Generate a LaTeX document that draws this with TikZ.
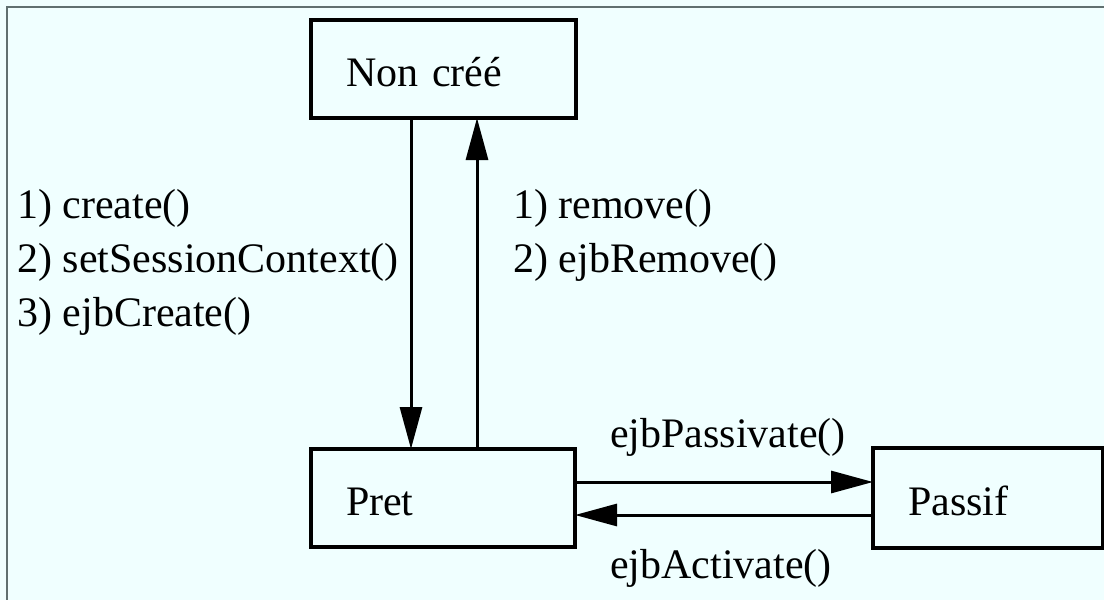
\documentclass[tikz,border=0pt]{standalone}
\usepackage{fontspec}
\setmainfont{Liberation Serif}
\usetikzlibrary{arrows.meta}
\definecolor{bgc}{RGB}{240,255,255}
\definecolor{framec}{RGB}{96,112,112}
\tikzset{
  statebox/.style={draw=black, line width=3.5pt, outer sep=0pt, rectangle,
    minimum height=98pt, inner xsep=35pt, inner ysep=0pt, align=left,
    text height=34pt, text depth=0pt, font=\fontsize{42}{50}\selectfont},
  conn/.style={line width=3pt, -{Triangle[length=42pt,width=22pt]}},
  lbl/.style={anchor=base west, inner sep=0pt, font=\fontsize{42}{50}\selectfont}
}
\begin{document}
\begin{tikzpicture}[x=1pt,y=-1pt]
\useasboundingbox (0,0) rectangle (1104,600);
\fill[bgc] (0,0) rectangle (1104,600);
\draw[framec, line width=2pt] (7,620) -- (7,7) -- (1120,7);

\node[statebox, minimum width=265pt, text width=195pt] (non) at (443.5,69) {Non créé};
\node[statebox, minimum width=264pt, text width=194pt] (pret) at (443,498) {Pret};
\node[statebox, minimum width=230pt, minimum height=100pt, text width=160pt] (passif) at (988,498) {Passif};

\draw[conn] ([xshift=100pt]non.south west) -- ([xshift=100pt]pret.north west);
\draw[conn] ([xshift=166pt]pret.north west) -- ([xshift=166pt]non.south west);
\draw[conn] ([yshift=16pt]pret.east) -- ([yshift=16pt]pret.east -| passif.west);
\draw[conn] ([yshift=-17pt]passif.west) -- ([yshift=-17pt]passif.west -| pret.east);

\node[lbl] (l1) at (17,218) {1) create()};
\node[lbl] (l2) at (17,272) {2) setSessionContext()};
\node[lbl] (l3) at (17,326) {3) ejbCreate()};
\node[lbl] (r1) at (513,218) {1) remove()};
\node[lbl] (r2) at (513,272) {2) ejbRemove()};
\node[lbl] (pa) at (610,447) {ejbPassivate()};
\node[lbl] (ac) at (610,578) {ejbActivate()};
\end{tikzpicture}
\end{document}
